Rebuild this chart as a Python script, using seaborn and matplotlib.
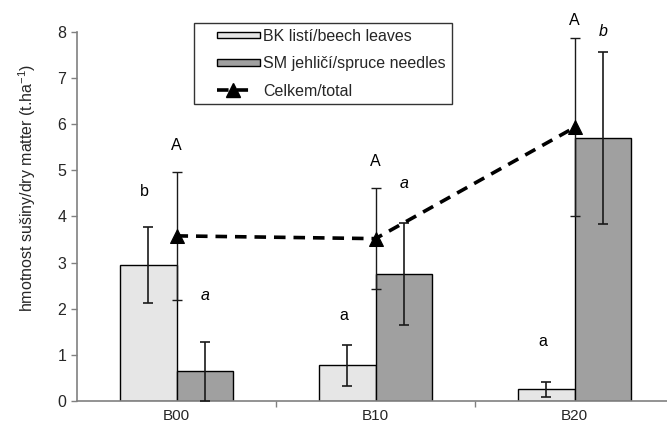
import matplotlib
matplotlib.use("Agg")
import matplotlib.pyplot as plt
import seaborn as sns
import pandas as pd
import numpy as np
from matplotlib.lines import Line2D
from matplotlib.patches import Patch, Rectangle
from matplotlib.legend_handler import HandlerBase

categories = ["B00", "B10", "B20"]
bk_values = [2.95, 0.77, 0.25]
bk_err = [0.82, 0.44, 0.16]
sm_values = [0.64, 2.75, 5.70]
sm_err = [0.64, 1.10, 1.87]
total_values = [3.58, 3.52, 5.93]
total_err = [1.39, 1.09, 1.93]
bk_letters = ["b", "a", "a"]
sm_letters = ["a", "a", "b"]
total_letters = ["A", "A", "A"]
series_names = ["BK listí/beech leaves", "SM jehličí/spruce needles", "Celkem/total"]
yticks = [0, 1, 2, 3, 4, 5, 6, 7, 8]

sns.set_theme(style="white")
plt.rcParams["font.family"] = ["Liberation Sans", "DejaVu Sans"]
plt.rcParams["mathtext.default"] = "regular"

FS = 11.5
DASH = (0, (3.2, 2.2))

df = pd.DataFrame({
    "cat": categories * 2,
    "series": [series_names[0]] * 3 + [series_names[1]] * 3,
    "value": bk_values + sm_values,
})

fig = plt.figure(figsize=(6.67, 4.25), dpi=100)
ax = fig.add_axes([77 / 667, 24 / 425, 597 / 667, 369 / 425])

sns.barplot(data=df, x="cat", y="value", hue="series", order=categories,
            hue_order=series_names[:2], palette=["#e6e6e6", "#a0a0a0"],
            width=0.57, gap=0, edgecolor="black", linewidth=1.0,
            errorbar=None, ax=ax, legend=False, zorder=2)

x = np.arange(len(categories))
off = 0.1425
ax.errorbar(x - off, bk_values, yerr=bk_err, fmt="none", ecolor="#1a1a1a",
            elinewidth=1.2, capsize=3.5, capthick=1.2, zorder=3)
ax.errorbar(x + off, sm_values, yerr=sm_err, fmt="none", ecolor="#1a1a1a",
            elinewidth=1.2, capsize=3.5, capthick=1.2, zorder=3)
ax.errorbar(x, total_values, yerr=total_err, fmt="none", ecolor="#1a1a1a",
            elinewidth=1.0, capsize=3.5, capthick=1.0, zorder=4)
sns.lineplot(x=x, y=total_values, ax=ax, color="black", linewidth=2.6,
             linestyle=DASH, marker="^", markersize=10,
             markeredgecolor="black", zorder=5, legend=False)

# letters
tkw = dict(ha="center", va="center", fontsize=FS, color="black", clip_on=False)
bk_ly = [4.54, 1.85, 1.29]
sm_ly = [2.29, 4.71, 8.0]
tot_ly = [5.55, 5.2, 8.26]
for i in range(3):
    ax.text(x[i] - 0.16, bk_ly[i], bk_letters[i], **tkw)
    ax.text(x[i] + 0.146, sm_ly[i], sm_letters[i], style="italic", **tkw)
    ax.text(x[i], tot_ly[i], total_letters[i], **tkw)

ax.set_xlim(-0.5, 2.5)
ax.set_ylim(0, 8)
ax.set_yticks(yticks)
ax.set_yticklabels([str(t) for t in yticks], fontsize=FS)
ax.set_xticks(x)
ax.set_xticklabels(categories, fontsize=11)
ax.set_xticks([0.5, 1.5], minor=True)
ax.tick_params(axis="x", which="major", length=0, pad=6)
ax.tick_params(axis="x", which="minor", bottom=True, length=4, width=1, color="#808080", direction="out")
ax.tick_params(axis="y", which="major", left=True, length=4.3, width=1, color="#808080", direction="out", pad=3.5)
ax.set_xlabel("")
ax.set_ylabel("hmotnost sušiny/dry matter (t.ha$^{-1}$)", fontsize=FS)
ax.yaxis.set_label_coords(-0.066, 0.577)
for s in ["top", "right"]:
    ax.spines[s].set_visible(False)
for s in ["left", "bottom"]:
    ax.spines[s].set_color("#808080")
    ax.spines[s].set_linewidth(1.2)


class PatchHandler(HandlerBase):
    def create_artists(self, legend, orig_handle, xdescent, ydescent, width,
                       height, fontsize, trans):
        h = 4.5
        r = Rectangle((-xdescent + 0.28 * width, -ydescent + height / 2 - h / 2),
                      0.72 * width, h, facecolor=orig_handle.get_facecolor(),
                      edgecolor="black", linewidth=1.0, transform=trans)
        return [r]


class LineHandler(HandlerBase):
    def create_artists(self, legend, orig_handle, xdescent, ydescent, width,
                       height, fontsize, trans):
        y = -ydescent + height / 2
        ln = Line2D([-xdescent + 0.28 * width, -xdescent + 0.82 * width], [y, y],
                    color="black", linewidth=2.6, linestyle=DASH, transform=trans)
        mk = Line2D([-xdescent + 0.55 * width], [y], color="black", marker="^",
                    markersize=10, linestyle="none", transform=trans)
        return [ln, mk]


h_bk = Patch(facecolor="#e6e6e6")
h_sm = Patch(facecolor="#a0a0a0")
h_tot = Line2D([0], [0])
leg = fig.legend([h_bk, h_sm, h_tot], series_names, loc="upper left",
                 bbox_to_anchor=(194 / 667, 1 - 23 / 425), borderaxespad=0,
                 frameon=True, fancybox=False, fontsize=FS, handlelength=3.8,
                 handleheight=0.7, labelspacing=0.78, borderpad=0.35,
                 handletextpad=0.2,
                 handler_map={h_bk: PatchHandler(), h_sm: PatchHandler(),
                              h_tot: LineHandler()})
leg.get_frame().set_edgecolor("black")
leg.get_frame().set_linewidth(1.0)

fig.savefig("out.png", dpi=100)
